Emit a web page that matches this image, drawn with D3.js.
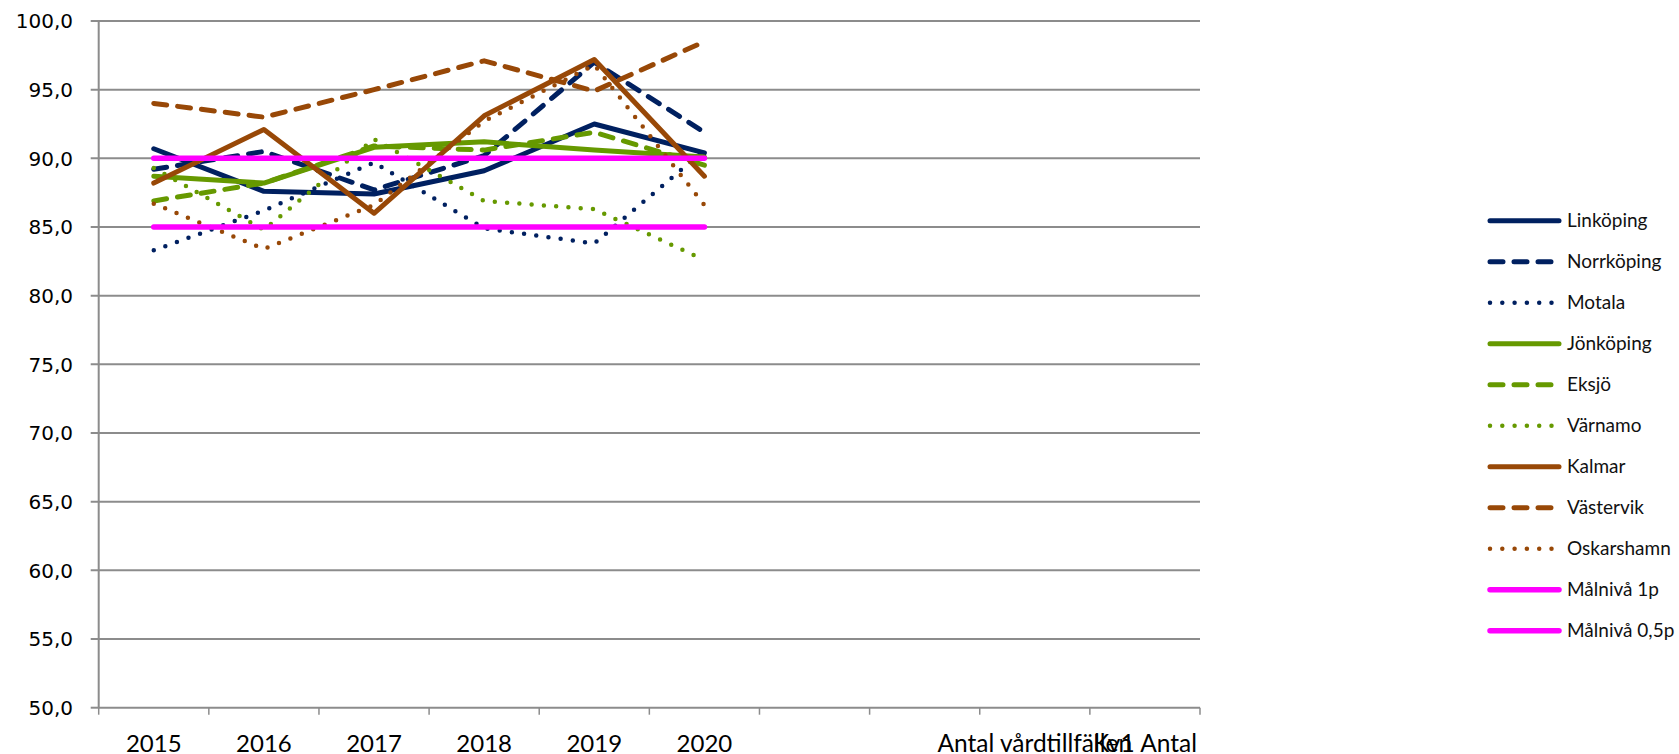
<!DOCTYPE html>
<html>
<head>
<meta charset="utf-8">
<script src="https://cdn.jsdelivr.net/npm/d3@7"></script>
<style>
  html, body { margin: 0; padding: 0; background: #fff; }
  svg { display: block; }
</style>
</head>
<body>
<svg id="chart" width="1679" height="754"></svg>
<script>
// ---- Data ----
const categories = ["2015", "2016", "2017", "2018", "2019", "2020", "", "", "Antal vårdtillfällen", "Kv1 Antal"];
const yTicks = [50, 55, 60, 65, 70, 75, 80, 85, 90, 95, 100];

const linkoping  = [90.7, 87.6, 87.4, 89.1, 92.5, 90.4];
const norrkoping = [89.2, 90.5, 87.7, 90.2, 97.0, 91.9];
const motala     = [83.3, 86.2, 89.7, 84.9, 83.8, 90.6];
const jonkoping  = [88.7, 88.2, 90.8, 91.2, 90.6, 90.1];
const eksjo      = [86.9, 88.2, 90.9, 90.6, 91.9, 89.5];
const varnamo    = [89.3, 84.8, 91.4, 86.9, 86.3, 82.6];
const kalmar     = [88.2, 92.1, 86.0, 93.1, 97.2, 88.7];
const vastervik  = [94.0, 93.0, 95.0, 97.1, 94.9, 98.5];
const oskarshamn = [86.7, 83.4, 86.6, 92.7, 96.8, 86.6];
const malniva1   = [90, 90, 90, 90, 90, 90];
const malniva05  = [85, 85, 85, 85, 85, 85];

const seriesNames = ["Linköping", "Norrköping", "Motala", "Jönköping", "Eksjö", "Värnamo",
                     "Kalmar", "Västervik", "Oskarshamn", "Målnivå 1p", "Målnivå 0,5p"];
const seriesValues = [linkoping, norrkoping, motala, jonkoping, eksjo, varnamo,
                      kalmar, vastervik, oskarshamn, malniva1, malniva05];

// ---- Styles ----
const NAVY = "#002060", GREEN = "#669900", BROWN = "#984807", PINK = "#FF00FF";
const styles = [
  {color: NAVY,  type: "solid"}, {color: NAVY,  type: "dash"}, {color: NAVY,  type: "dot"},
  {color: GREEN, type: "solid"}, {color: GREEN, type: "dash"}, {color: GREEN, type: "dot"},
  {color: BROWN, type: "solid"}, {color: BROWN, type: "dash"}, {color: BROWN, type: "dot"},
  {color: PINK,  type: "pink"},  {color: PINK,  type: "pink"}
];
function applyStyle(sel, st) {
  sel.attr("stroke", st.color).attr("fill", "none")
     .attr("stroke-linecap", "round").attr("stroke-linejoin", "round");
  if (st.type === "solid") sel.attr("stroke-width", 5);
  else if (st.type === "dash") sel.attr("stroke-width", 5).attr("stroke-dasharray", "13,11");
  else if (st.type === "dot") sel.attr("stroke-width", 4.5).attr("stroke-dasharray", "0,12.3");
  else sel.attr("stroke-width", 5.5);
}

// ---- Layout ----
const plotL = 98.7, plotR = 1200, plotT = 21, plotB = 707.7;
const svg = d3.select("#chart");
const GRID = "#8c8c8c";

const x = d3.scaleBand().domain(d3.range(categories.length)).range([plotL, plotR]).padding(0);
const y = d3.scaleLinear().domain([50, 100]).range([plotB, plotT]);
const cx = i => x(i) + x.bandwidth() / 2;

// gridlines + y ticks
const gY = svg.append("g");
gY.selectAll("line.grid").data(yTicks.filter(v => v > 50)).join("line")
  .attr("x1", plotL - 8).attr("x2", plotR)
  .attr("y1", d => y(d)).attr("y2", d => y(d))
  .attr("stroke", GRID).attr("stroke-width", 2);
gY.append("line").attr("x1", plotL - 8).attr("x2", plotL).attr("y1", y(50)).attr("y2", y(50))
  .attr("stroke", GRID).attr("stroke-width", 2);
gY.selectAll("text").data(yTicks).join("text")
  .attr("x", 73).attr("y", d => y(d)).attr("dy", "0.36em")
  .attr("text-anchor", "end")
  .attr("font-family", "DejaVu Sans, Verdana, sans-serif").attr("font-size", 20)
  .attr("fill", "#000")
  .text(d => d3.format(".1f")(d).replace(".", ","));

// axes lines
svg.append("line").attr("x1", plotL).attr("x2", plotL).attr("y1", plotT).attr("y2", plotB)
  .attr("stroke", GRID).attr("stroke-width", 2);
svg.append("line").attr("x1", plotL).attr("x2", plotR).attr("y1", plotB).attr("y2", plotB)
  .attr("stroke", GRID).attr("stroke-width", 2);
const tickXs = d3.range(categories.length).map(i => x(i)).concat([plotR]);
svg.append("g").selectAll("line").data(tickXs).join("line")
  .attr("x1", d => d).attr("x2", d => d).attr("y1", plotB).attr("y2", plotB + 7)
  .attr("stroke", GRID).attr("stroke-width", 1.5);

// x labels
svg.append("g").selectAll("text").data(categories).join("text")
  .attr("x", (d, i) => cx(i)).attr("y", 752)
  .attr("text-anchor", "middle")
  .attr("font-family", "Lato, 'Open Sans', sans-serif")
  .attr("font-size", d => /^\d+$/.test(d) ? 24 : 24.5)
  .attr("fill", "#000")
  .text(d => d);

// series lines
const line = d3.line().x((d, i) => cx(i)).y(d => y(d));
const gS = svg.append("g");
seriesValues.forEach((vals, k) => {
  const p = gS.append("path").datum(vals).attr("d", line);
  applyStyle(p, styles[k]);
});

// legend
const lg = svg.append("g");
const legY0 = 220.7, legStep = 41;
seriesNames.forEach((name, k) => {
  const yy = legY0 + k * legStep;
  const l = lg.append("line").attr("x1", 1490).attr("x2", 1559).attr("y1", yy).attr("y2", yy);
  applyStyle(l, styles[k]);
  lg.append("text").attr("x", 1567).attr("y", yy).attr("dy", "0.35em")
    .attr("font-family", "Lato, 'Open Sans', sans-serif").attr("font-size", 19)
    .attr("fill", "#111").text(name);
});
</script>
</body>
</html>
